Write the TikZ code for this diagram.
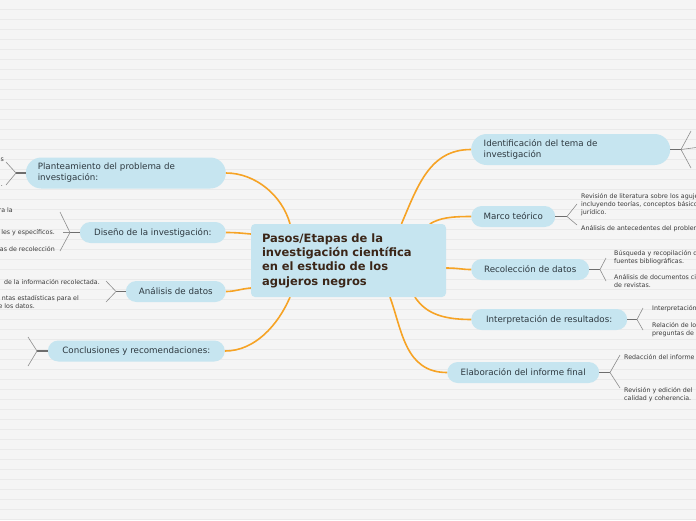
\documentclass[tikz,border=0pt]{standalone}
\usepackage{fontspec}
\setmainfont{DejaVu Sans}
\usetikzlibrary{backgrounds}
\definecolor{bgc}{HTML}{F5F5F5}
\definecolor{rulec}{HTML}{EAEAEA}
\definecolor{pillc}{HTML}{C6E5F0}
\definecolor{maintext}{HTML}{2E3940}
\definecolor{centraltext}{HTML}{3B2618}
\definecolor{orangec}{HTML}{F6A325}
\definecolor{stemc}{HTML}{6E6E6E}
\definecolor{twigc}{HTML}{8E8E8E}
\definecolor{leafc}{HTML}{3A3A3A}
\tikzset{
  pill/.style={fill=pillc, draw=none, rounded corners=10.5pt, minimum height=21pt,
    inner xsep=12pt, inner ysep=0pt, font=\fontsize{8.7}{11}\selectfont, text=maintext},
  pilltall/.style={pill, rounded corners=15.5pt, minimum height=31pt, align=left},
  central/.style={fill=pillc, draw=none, rounded corners=4pt, minimum height=73pt,
    text width=173pt, inner xsep=11pt, inner ysep=0pt, align=left,
    font=\bfseries\fontsize{11.5}{14.3}\selectfont, text=centraltext},
  conn/.style={draw=orangec, line width=1.6pt, line cap=round},
  stem/.style={draw=stemc, line width=1.8pt},
  twig/.style={draw=twigc, line width=0.6pt},
  leaf/.style={font=\fontsize{6.3}{8}\selectfont, text=leafc, inner sep=0pt},
  rule/.style={draw=rulec, line width=0.8pt}
}
\begin{document}
\begin{tikzpicture}[x=1pt,y=-1pt]
\useasboundingbox (0,0) rectangle (696,520);
\clip (0,0) rectangle (696,520);
\begin{scope}[on background layer]
  \fill[bgc] (0,0) rectangle (696,520);
  \foreach \yy in {9.5,19.5,...,519.5} \draw[rule] (0,\yy) -- (696,\yy);
\end{scope}

% central node
\node[central] (c) at (348.5,260.5) {Pasos/Etapas de la\\investigación científica\\en el estudio de los\\agujeros negros};

% right branches
\node[pilltall, text width=174pt, inner xsep=12.5pt, anchor=west] (ident) at (471,149.5) {Identificación del tema de\\investigación};
\node[pill, minimum width=84pt, anchor=west] (marco) at (471,216.5) {Marco teórico};
\node[pill, minimum width=118pt, anchor=west] (recol) at (471,269.5) {Recolección de datos};
\node[pill, minimum width=156pt, anchor=west] (interp) at (471,319.5) {Interpretación de resultados:};
\node[pill, minimum width=152pt, anchor=west] (elab) at (447,372.5) {Elaboración del informe final};

% left branches
\node[pilltall, text width=176pt, inner xsep=12pt, anchor=east] (plant) at (226,173) {Planteamiento del problema de\\investigación:};
\node[pill, minimum width=146pt, anchor=east] (diseno) at (226,232.5) {Diseño de la investigación:};
\node[pill, minimum width=100pt, anchor=east] (anal) at (226,291.5) {Análisis de datos};
\node[pill, minimum width=177pt, anchor=east] (concl) at (225,351) {Conclusiones y recomendaciones:};

% orange connectors
\begin{scope}[on background layer]
  \draw[conn] ([xshift=53pt]c.north) .. controls (418,185) and (430,149.5) .. (ident.west);
  \draw[conn] ([xshift=81.5pt]c.north) .. controls (440,218) and (450,216.5) .. (marco.west);
  \draw[conn] ([yshift=-7.5pt]c.east) .. controls (458,268) and (462,269.5) .. (recol.west);
  \draw[conn] ([xshift=66.5pt]c.south) .. controls (425,312) and (440,319.5) .. (interp.west);
  \draw[conn] ([xshift=41.5pt]c.south) .. controls (402,330) and (405,372.5) .. (elab.west);
  \draw[conn] ([xshift=-58.5pt]c.north) .. controls (282,195) and (255,173) .. (plant.east);
  \draw[conn] ([yshift=26.5pt]c.west) .. controls (240,233) and (235,232.5) .. (diseno.east);
  \draw[conn] ([yshift=-27.5pt]c.west) .. controls (240,289) and (235,291.5) .. (anal.east);
  \draw[conn] ([xshift=-58.5pt]c.south) .. controls (278,325) and (255,351) .. (concl.east);
\end{scope}

% forks (right)
\coordinate (fI) at (681,149.5);
\coordinate (fIa) at (691,131);
\coordinate (fIb) at (700,147);
\coordinate (fIc) at (691,168);
\draw[stem] (ident.east) -- (fI);
\draw[twig] (fI) -- (fIa); \draw[twig] (fI) -- (fIb); \draw[twig] (fI) -- (fIc);

\coordinate (fM) at (567,216.5);
\coordinate (fMa) at (577,204);
\coordinate (fMb) at (577,225);
\draw[stem] (marco.east) -- (fM);
\draw[twig] (fM) -- (fMa); \draw[twig] (fM) -- (fMb);

\coordinate (fR) at (600,269.5);
\coordinate (fRa) at (606,258);
\coordinate (fRb) at (606,281);
\draw[stem] (recol.east) -- (fR);
\draw[twig] (fR) -- (fRa); \draw[twig] (fR) -- (fRb);

\coordinate (fP) at (637,319.5);
\coordinate (fPa) at (643,308);
\coordinate (fPb) at (643,330);
\draw[stem] (interp.east) -- (fP);
\draw[twig] (fP) -- (fPa); \draw[twig] (fP) -- (fPb);

\coordinate (fE) at (610,372.5);
\coordinate (fEa) at (620,355);
\coordinate (fEb) at (620,388);
\draw[stem] (elab.east) -- (fE);
\draw[twig] (fE) -- (fEa); \draw[twig] (fE) -- (fEb);

% forks (left)
\coordinate (fL) at (16,173);
\coordinate (fLa) at (6,162);
\coordinate (fLb) at (6,185);
\draw[stem] (plant.west) -- (fL);
\draw[twig] (fL) -- (fLa); \draw[twig] (fL) -- (fLb);

\coordinate (fD) at (70,232.5);
\coordinate (fDa) at (60,212);
\coordinate (fDb) at (63,232.5);
\coordinate (fDc) at (60,251);
\draw[stem] (diseno.west) -- (fD);
\draw[twig] (fD) -- (fDa); \draw[twig] (fD) -- (fDb); \draw[twig] (fD) -- (fDc);

\coordinate (fA) at (116,291.5);
\coordinate (fAa) at (106,281);
\coordinate (fAb) at (106,302);
\draw[stem] (anal.west) -- (fA);
\draw[twig] (fA) -- (fAa); \draw[twig] (fA) -- (fAb);

\coordinate (fC) at (37,351);
\coordinate (fCa) at (28,337);
\coordinate (fCb) at (28,366);
\draw[stem] (concl.west) -- (fC);
\draw[twig] (fC) -- (fCa); \draw[twig] (fC) -- (fCb);

% leaf texts (right)
\node[leaf, anchor=mid west] (m1) at (581,196) {Revisión de literatura sobre los agujeros negros,};
\node[leaf, anchor=mid west] (m2) at (581,204) {incluyendo teorías, conceptos básicos y marco};
\node[leaf, anchor=mid west] (m3) at (581,212) {jurídico.};
\node[leaf, anchor=mid west] (m4) at (581,228) {Análisis de antecedentes del problema};

\node[leaf, anchor=mid west] (r1) at (614,253) {Búsqueda y recopilación de};
\node[leaf, anchor=mid west] (r2) at (614,261) {fuentes bibliográficas.};
\node[leaf, anchor=mid west] (r3) at (614,277) {Análisis de documentos científicos};
\node[leaf, anchor=mid west] (r4) at (614,285) {de revistas.};

\node[leaf, anchor=mid west] (i1) at (652,307.5) {Interpretación de};
\node[leaf, anchor=mid west] (i2) at (652,324.5) {Relación de los};
\node[leaf, anchor=mid west] (i3) at (652,332.5) {preguntas de};

\node[leaf, anchor=mid west] (e1) at (624,357) {Redacción del informe};
\node[leaf, anchor=mid west] (e2) at (624,390) {Revisión y edición del};
\node[leaf, anchor=mid west] (e3) at (624,398) {calidad y coherencia.};

% leaf texts (left, cut by the edge)
\node[leaf, anchor=mid east] (p1) at (4,159) {s};
\node[leaf, anchor=mid east] (p2) at (3,184) {.};

\node[leaf, anchor=mid east] (d1) at (13,209.3) {ra la};
\node[leaf, anchor=mid east] (d2) at (55,231.7) {les y específicos.};
\node[leaf, anchor=mid east] (d3) at (55,249) {as de recolección};

\node[leaf, anchor=mid east] (a1) at (100,282) {de la información recolectada.};
\node[leaf, anchor=mid east] (a2) at (79,297.5) {ntas estadísticas para el};
\node[leaf, anchor=mid east] (a3) at (35,305.5) {e los datos.};
\end{tikzpicture}
\end{document}
